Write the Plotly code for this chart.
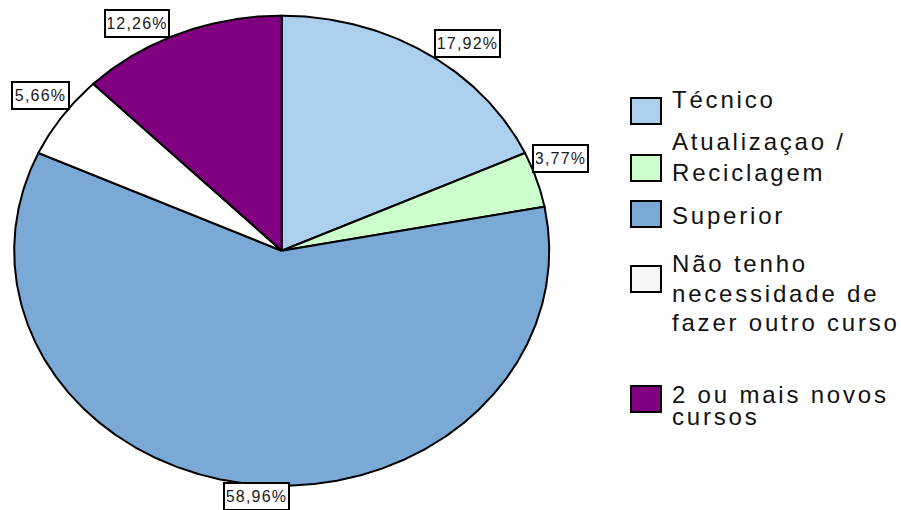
import numpy as np
import plotly.graph_objects as go

# ---------------- data ----------------
categories = ["Técnico", "Atualizaçao / Reciclagem", "Superior",
              "Não tenho necessidade de fazer outro curso", "2 ou mais novos cursos"]
values = [17.92, 3.77, 58.96, 5.66, 12.26]
legend_lines = [["Técnico"], ["Atualizaçao /", "Reciclagem"], ["Superior"],
                ["Não tenho", "necessidade de", "fazer outro curso"],
                ["2 ou mais novos", "cursos"]]

# ---------------- styles / layout ----------------
colors = ["#ADCFEE", "#CCFFCC", "#7BA9D6", "#FFFFFF", "#800080"]
legend_box_colors = ["#ADCFEE", "#CCFFCC", "#7BA9D6", "#F6F6F6", "#800080"]
W, H = 901, 510
CX, CY, RX, RY = 281.7, 250.7, 267.5, 235.0
FONT = "Liberation Sans, Arial, sans-serif"
LEG_FS = 24
LAB_FS = 16
label_centers = [(467, 43.5), (560, 158), (256, 496), (40.5, 95), (137, 23)]
label_widths = [59, 49, 59, 51, 58]
legend_boxes_y = [(98, 124), (155, 181), (201, 227), (266, 292), (386, 412)]
legend_baselines = [[108], [150, 181], [224], [272, 302, 331], [403, 425]]
LEG_BOX_X = (631, 661)
LEG_TEXT_X = 671

fig = go.Figure()

total = sum(values)
start = 0.0
for name, v, col in zip(categories, values, colors):
    frac0 = start / total
    frac1 = (start + v) / total
    t = np.linspace(frac0, frac1, max(int(v * 8), 12)) * 2 * np.pi
    xs = np.concatenate([[CX], CX + RX * np.sin(t), [CX]])
    ys = np.concatenate([[CY], CY - RY * np.cos(t), [CY]])
    fig.add_trace(go.Scatter(x=xs, y=ys, mode="lines", fill="toself",
                             fillcolor=col, line=dict(color="black", width=2),
                             name=name, showlegend=False, hoverinfo="name"))
    start += v

# percentage labels
for v, (lx, ly), w in zip(values, label_centers, label_widths):
    txt = f"{v:.2f}".replace(".", ",") + "%"
    fig.add_annotation(x=lx, y=ly, xref="x", yref="y", text=txt, showarrow=False,
                       xanchor="center", yanchor="middle", width=w, height=21,
                       align="center",
                       font=dict(family=FONT, size=LAB_FS, color="#1a1a1a"),
                       bgcolor="white", bordercolor="black", borderwidth=2, borderpad=2)

# legend (boxes + text)
for (y0, y1), col in zip(legend_boxes_y, legend_box_colors):
    fig.add_shape(type="rect", xref="x", yref="y", x0=LEG_BOX_X[0], x1=LEG_BOX_X[1],
                  y0=y0, y1=y1, fillcolor=col, line=dict(color="black", width=2))
for lines, bases in zip(legend_lines, legend_baselines):
    for line, b in zip(lines, bases):
        fig.add_annotation(x=LEG_TEXT_X, y=b - 0.35 * LEG_FS, xref="x", yref="y",
                           text=line, showarrow=False, xanchor="left", yanchor="middle",
                           align="left", borderpad=0,
                           font=dict(family=FONT, size=LEG_FS, color="#111111"))

fig.update_xaxes(range=[0, W], visible=False, fixedrange=True)
fig.update_yaxes(range=[H, 0], visible=False, fixedrange=True)
fig.update_layout(width=W, height=H, autosize=False,
                  margin=dict(l=0, r=0, t=0, b=0, pad=0),
                  paper_bgcolor="white", plot_bgcolor="white", showlegend=False)

post = """
document.body.style.margin = '0';
document.body.style.padding = '0';
var gd = document.getElementById('{plot_id}');
gd.querySelectorAll('.annotation-text').forEach(function(t){
  var fs = parseFloat(t.style.fontSize);
  t.style.letterSpacing = (fs > 18 ? '2.8px' : '1.2px');
});
"""
fig.write_html("out.html", post_script=post, config={"displayModeBar": False})
